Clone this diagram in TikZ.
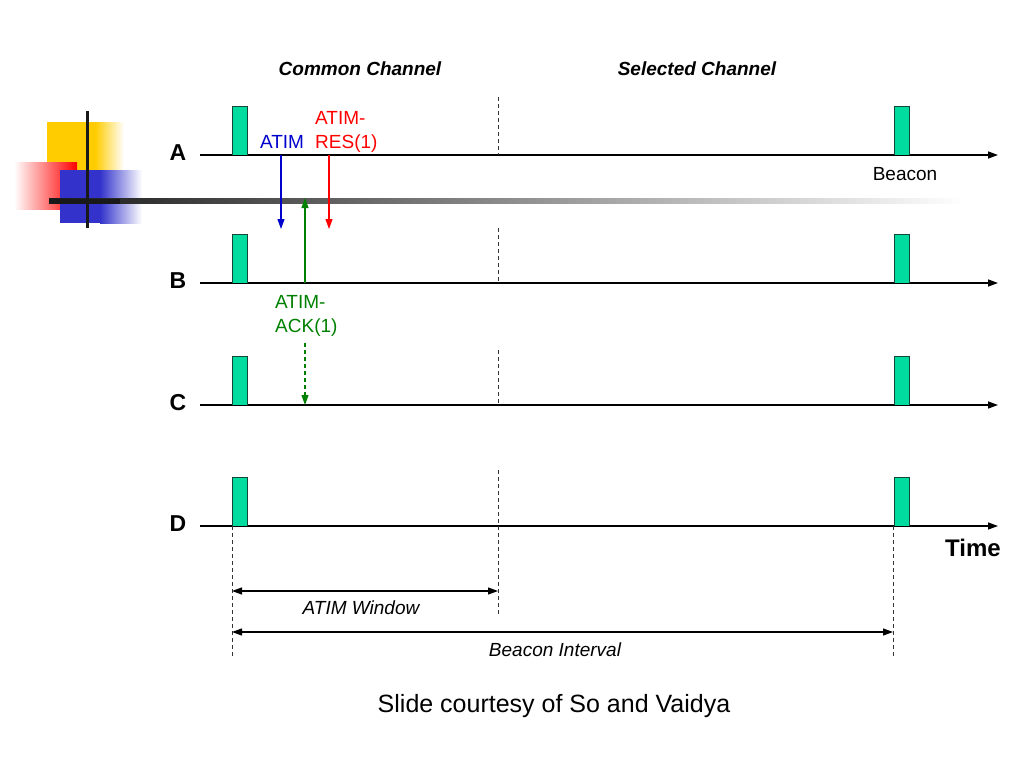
\documentclass[tikz,border=0pt]{standalone}
\usepackage{fontspec}
\setmainfont{Liberation Sans}
\usetikzlibrary{arrows.meta}
\definecolor{beaconfill}{RGB}{0,220,160}
\definecolor{beacondraw}{RGB}{20,70,55}
\definecolor{atimblue}{RGB}{0,0,204}
\definecolor{atimred}{RGB}{255,0,0}
\definecolor{atimgreen}{RGB}{0,128,0}
\definecolor{decoyellow}{RGB}{255,204,0}
\definecolor{decoblue}{RGB}{51,51,204}
\tikzset{
  axis/.style={line width=1.3pt,-{Triangle[length=10,width=7]}},
  beaconbox/.style={fill=beaconfill,draw=beacondraw,line width=1pt},
  divider/.style={line width=0.8pt,dash pattern=on 4pt off 3pt,black!80},
  msg/.style={line width=1.1pt,-{Triangle[length=10,width=7]}},
  dimarrow/.style={line width=1.1pt,{Triangle[length=10,width=7]}-{Triangle[length=10,width=7]}},
  rowlabel/.style={font=\fontsize{23}{26}\selectfont\bfseries},
  txt/.style={font=\fontsize{19}{24}\selectfont},
  itxt/.style={font=\fontsize{19}{24}\selectfont\itshape},
  hdr/.style={font=\fontsize{19}{24}\selectfont\bfseries\itshape},
}
\begin{document}
\begin{tikzpicture}[x=1pt,y=-1pt]
\useasboundingbox (0,0) rectangle (1024,768);
% decoration
\fill[decoyellow] (47,122) rectangle (95,200);
\shade[left color=decoyellow,right color=white] (95,122) rectangle (124,200);
\shade[left color=white,right color=atimred] (14,162) rectangle (77,209);
\fill[decoblue] (60,170) rectangle (100,223);
\shade[left color=decoblue,right color=white] (100,170) rectangle (142,223);
\shade[left color=black!90,right color=white] (49,198.5) rectangle (965,203.5);
\fill[black!90] (49,198.5) rectangle (120,203.5);
\draw[line width=3pt,black!90] (87,111) -- (87,228);
% time lines
\foreach \n/\y in {A/155,B/283,C/405,D/526}{
  \coordinate (\n s) at (200,\y);
  \coordinate (\n e) at (998,\y);
  \draw[axis] (\n s) -- (\n e);
  \node[rowlabel] (\n lab) at (178,\y-2) {\n};
  \fill[beaconfill] (232,\y-49) rectangle (247,\y);
  \draw[beaconbox] (232,\y) -- (232,\y-49) -- (247,\y-49) -- (247,\y);
  \draw[beaconbox] (894,\y) -- (894,\y-49) -- (909,\y-49) -- (909,\y);
}
\draw[divider] (498,97) -- (498,155);
\draw[divider] (498,228) -- (498,283);
\draw[divider] (498,350) -- (498,405);
\draw[divider] (498,470) -- (498,616);
\draw[divider] (232,526) -- (232,656);
\draw[divider] (893,526) -- (893,656);
% headers
\node[hdr] (cc) at (360,69) {Common Channel};
\node[hdr] (sc) at (697,69) {Selected Channel};
% messages
\node[txt,text=atimblue] (atim) at (282,142) {ATIM};
\coordinate (atimS) at (281,155);
\coordinate (atimE) at (281,229);
\draw[msg,atimblue] (atimS) -- (atimE);
\node[txt,text=atimred,align=left,anchor=north west,inner sep=0pt] (res) at (315,111) {ATIM-\\RES(1)};
\coordinate (resS) at (329,155);
\coordinate (resE) at (329,229);
\draw[msg,atimred] (resS) -- (resE);
\coordinate (ackS) at (305,283);
\coordinate (ackE) at (305,198);
\draw[msg,atimgreen] (ackS) -- (ackE);
\node[txt,text=atimgreen,align=left,anchor=north west,inner sep=0pt] (ack) at (275,295) {ATIM-\\ACK(1)};
\coordinate (ackCS) at (305,343);
\coordinate (ackCE) at (305,405);
\draw[msg,atimgreen,dash pattern=on 4pt off 3pt] (ackCS) -- (ackCE);
% labels
\node[txt] (beacon) at (905,174) {Beacon};
\node[font=\fontsize{24}{28}\selectfont\bfseries] (time) at (973,548) {Time};
% dimensions
\coordinate (w1) at (232,591);
\coordinate (w2) at (498,591);
\draw[dimarrow] (w1) -- (w2);
\node[itxt] (wlab) at (361,608) {ATIM Window};
\coordinate (b1) at (232,632);
\coordinate (b2) at (893,632);
\draw[dimarrow] (b1) -- (b2);
\node[itxt] (blab) at (555,650) {Beacon Interval};
\node[font=\fontsize{25}{30}\selectfont] (credit) at (554,706) {Slide courtesy of So and Vaidya};
\end{tikzpicture}
\end{document}
